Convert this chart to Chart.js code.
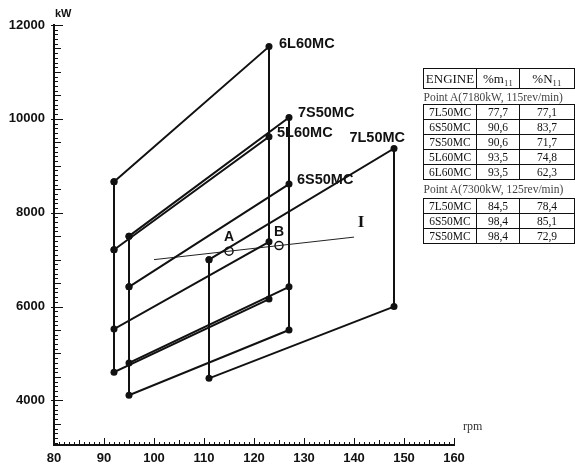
<!DOCTYPE html>
<html>
<head>
<meta charset="utf-8">
<script src="https://cdn.jsdelivr.net/npm/chart.js@4.4.1/dist/chart.umd.min.js"></script>
<style>
  body { margin: 0; background: #fff; }
  #wrap { position: relative; width: 575px; height: 465px; overflow: hidden; }
  .lbl { position: absolute; white-space: nowrap; color: #111; transform: translateY(-50%);
         font-family: "Liberation Sans", Arial, sans-serif; font-size: 14.5px; font-weight: bold; }
  .pt { font-size: 14px; font-weight: bold; transform: translate(-50%, -50%); }
  .roman { font-family: "Liberation Serif", serif; font-size: 17px; font-weight: bold; transform: translate(-50%, -50%); }
  .unit { font-size: 11px; font-weight: bold; }
  .rpm { font-family: "Liberation Serif", serif; font-size: 12px; font-weight: normal; color: #333; }
  #tbl { position: absolute; left: 423px; top: 68px; border-collapse: collapse;
         font-family: "Liberation Serif", "Times New Roman", serif; font-size: 11.5px; color: #111; }
  #tbl td { padding: 0; height: 14px; line-height: 14px; text-align: center;
            border: 1.5px solid #111; }
  #tbl tr.head td { height: 19px; font-size: 13px; }
  #tbl td.eng { width: 52px; }
  #tbl td.c2 { width: 42px; }
  #tbl td.c3 { width: 54px; }
  #tbl tr.point td { border: none; text-align: left; height: 15px; font-size: 11.5px; color: #444; }
  #tbl tr.point.second td { height: 18px; }
</style>
</head>
<body>
<div id="wrap">
  <canvas id="layoutChart" width="575" height="465"></canvas>
  <table id="tbl"></table>
</div>
<script>
// Engines and their layout points (L1 = high rpm / high power, L2 = high rpm / low power,
// L3 = low rpm / high power, L4 = low rpm / low power)
const engines = ['6L60MC', '5L60MC', '7S50MC', '6S50MC', '7L50MC'];
const rpmLow  = [92, 92, 95, 95, 111];
const rpmHigh = [123, 123, 127, 127, 148];
const kwL1 = [11540, 9620, 10030, 8610, 9370];
const kwL2 = [7380, 6160, 6420, 5500, 6000];
const kwL3 = [8660, 7210, 7500, 6420, 7000];
const kwL4 = [5520, 4600, 4800, 4110, 4470];

// Line I and the two operating points
const lineRpm = [100, 140];
const lineKw = [7000, 7480];
const pointNames = ['A', 'B'];
const pointRpm = [115, 125];
const pointKw = [7180, 7300];

// Axis ticks
const xTicks = [80, 90, 100, 110, 120, 130, 140, 150, 160];
const yTicks = [4000, 6000, 8000, 10000, 12000];

// Table
const tableHead = ['ENGINE', '%m\u2081\u2081', '%N\u2081\u2081'];
const pointTitleA = 'Point  A(7180kW, 115rev/min)';
const tableEngA = ['7L50MC', '6S50MC', '7S50MC', '5L60MC', '6L60MC'];
const tableMA = ['77,7', '90,6', '90,6', '93,5', '93,5'];
const tableNA = ['77,1', '83,7', '71,7', '74,8', '62,3'];
const pointTitleB = 'Point  A(7300kW, 125rev/min)';
const tableEngB = ['7L50MC', '6S50MC', '7S50MC'];
const tableMB = ['84,5', '98,4', '98,4'];
const tableNB = ['78,4', '85,1', '72,9'];

// label offsets (pixels) from each engine's L1 point
const labelOffsets = {
  '6L60MC': { dx: 10, dy: -4, align: 'left' },
  '5L60MC': { dx: 8, dy: -5, align: 'left' },
  '7S50MC': { dx: 9, dy: -5, align: 'left' },
  '6S50MC': { dx: 8, dy: -5, align: 'left' },
  '7L50MC': { dx: 11, dy: -11, align: 'right' }
};

// Build table
function buildTable() {
  const t = document.getElementById('tbl');
  let html = '<tr class="head"><td class="eng">' + tableHead[0] + '</td><td class="c2">' +
    tableHead[1] + '</td><td class="c3">' + tableHead[2] + '</td></tr>';
  html += '<tr class="point"><td colspan="3">' + pointTitleA + '</td></tr>';
  tableEngA.forEach((e, i) => {
    html += '<tr><td class="eng">' + e + '</td><td class="c2">' + tableMA[i] + '</td><td class="c3">' + tableNA[i] + '</td></tr>';
  });
  html += '<tr class="point second"><td colspan="3">' + pointTitleB + '</td></tr>';
  tableEngB.forEach((e, i) => {
    html += '<tr><td class="eng">' + e + '</td><td class="c2">' + tableMB[i] + '</td><td class="c3">' + tableNB[i] + '</td></tr>';
  });
  t.innerHTML = html;
}
buildTable();

// HTML labels
const wrap = document.getElementById('wrap');
function makeLabel(text, cls) {
  const d = document.createElement('div');
  d.className = 'lbl ' + (cls || '');
  d.textContent = text;
  wrap.appendChild(d);
  return d;
}
const engineLabels = engines.map(e => makeLabel(e));
const pointLabels = pointNames.map(p => makeLabel(p, 'pt'));
const romanLabel = makeLabel('I', 'roman');
const kwLabel = makeLabel('kW', 'unit');
const rpmLabel = makeLabel('rpm', 'rpm');

// datasets
const datasets = engines.map((e, i) => ({
  label: e,
  data: [
    { x: rpmLow[i], y: kwL3[i] },
    { x: rpmHigh[i], y: kwL1[i] },
    { x: rpmHigh[i], y: kwL2[i] },
    { x: rpmLow[i], y: kwL4[i] },
    { x: rpmLow[i], y: kwL3[i] }
  ],
  showLine: true,
  borderColor: '#111',
  borderWidth: 2,
  pointRadius: 3.5,
  pointBackgroundColor: '#111',
  pointBorderWidth: 0
}));

datasets.push({
  label: 'I',
  data: lineRpm.map((r, i) => ({ x: r, y: lineKw[i] })),
  showLine: true,
  borderColor: '#222',
  borderWidth: 1,
  pointRadius: 0
});

datasets.push({
  label: 'Points',
  data: pointRpm.map((r, i) => ({ x: r, y: pointKw[i] })),
  showLine: false,
  pointRadius: 4,
  pointBackgroundColor: '#fff',
  pointBorderColor: '#111',
  pointBorderWidth: 1.5
});

// extra tick marks + label placement
const decorPlugin = {
  id: 'decor',
  afterDraw(chart) {
    const { ctx, scales: { x, y } } = chart;
    ctx.save();
    ctx.strokeStyle = '#111';
    ctx.lineWidth = 1;
    ctx.beginPath();
    for (let v = 3100; v <= 12000; v += 100) {
      const py = Math.round(y.getPixelForValue(v)) + 0.5;
      let x0 = x.left, x1 = x.left + 4;
      if (v % 2000 === 0) { x0 = x.left - 3; x1 = x.left + 9; }
      else if (v % 500 === 0) { x1 = x.left + 7; }
      ctx.moveTo(x0, py);
      ctx.lineTo(x1, py);
    }
    for (let v = 81; v <= 160; v++) {
      const px = Math.round(x.getPixelForValue(v)) + 0.5;
      let len = 3;
      if (v % 10 === 0) len = 7;
      else if (v % 5 === 0) len = 5;
      ctx.moveTo(px, y.bottom);
      ctx.lineTo(px, y.bottom - len);
    }
    ctx.stroke();
    ctx.restore();

    engines.forEach((e, i) => {
      const o = labelOffsets[e];
      const px = x.getPixelForValue(rpmHigh[i]);
      const py = y.getPixelForValue(kwL1[i]);
      const el = engineLabels[i];
      el.style.top = (py + o.dy) + 'px';
      if (o.align === 'right') {
        el.style.left = '';
        el.style.right = (575 - px - o.dx) + 'px';
      } else {
        el.style.left = (px + o.dx) + 'px';
      }
    });
    pointNames.forEach((p, i) => {
      pointLabels[i].style.left = x.getPixelForValue(pointRpm[i]) + 'px';
      pointLabels[i].style.top = (y.getPixelForValue(pointKw[i]) - 15) + 'px';
    });
    romanLabel.style.left = (x.getPixelForValue(lineRpm[1]) + 7) + 'px';
    romanLabel.style.top = (y.getPixelForValue(lineKw[1]) - 15) + 'px';
    kwLabel.style.left = (x.left + 1) + 'px';
    kwLabel.style.top = (y.top - 12) + 'px';
    rpmLabel.style.left = (x.right + 9) + 'px';
    rpmLabel.style.top = (y.bottom - 19) + 'px';
  }
};

const tickFont = { family: '"Liberation Sans", Arial, sans-serif', size: 13, weight: 'bold' };

new Chart(document.getElementById('layoutChart'), {
  type: 'scatter',
  data: { datasets: datasets },
  options: {
    responsive: false,
    animation: false,
    layout: { padding: { top: 25, right: 121, left: 0, bottom: 0 } },
    plugins: {
      legend: { display: false },
      tooltip: { enabled: false }
    },
    scales: {
      x: {
        type: 'linear',
        min: 80,
        max: 160,
        afterBuildTicks: s => { s.ticks = xTicks.map(v => ({ value: v })); },
        afterFit: s => { s.height = 20; },
        grid: { display: false, drawTicks: false },
        border: { display: true, color: '#111', width: 2 },
        ticks: { font: tickFont, color: '#111', padding: 6, maxRotation: 0, autoSkip: false,
                 callback: v => String(v) }
      },
      y: {
        type: 'linear',
        min: 3050,
        max: 12000,
        afterBuildTicks: s => { s.ticks = yTicks.map(v => ({ value: v })); },
        afterFit: s => { s.width = 54; },
        grid: { display: false, drawTicks: false },
        border: { display: true, color: '#111', width: 2 },
        ticks: { font: tickFont, color: '#111', padding: 9, autoSkip: false,
                 callback: v => String(v) }
      }
    }
  },
  plugins: [decorPlugin]
});
</script>
</body>
</html>
